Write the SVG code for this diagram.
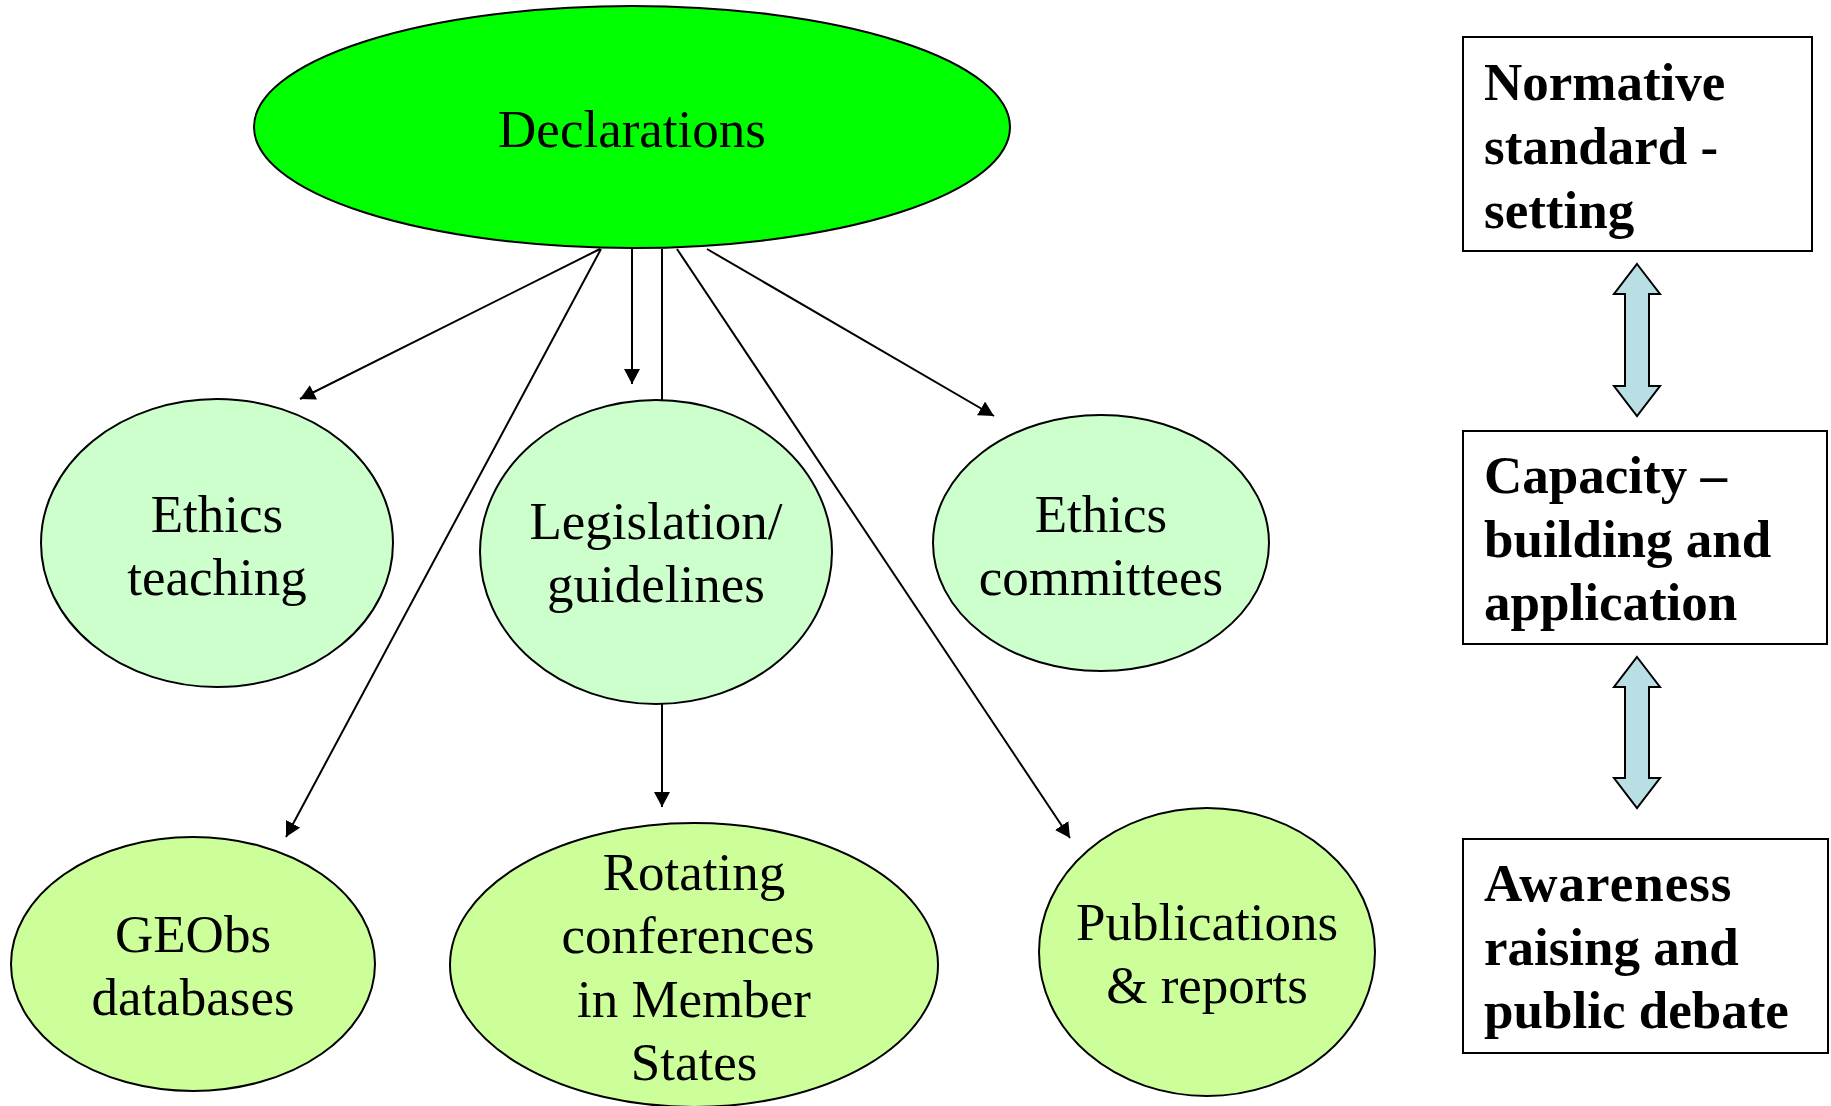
<svg xmlns="http://www.w3.org/2000/svg" width="1831" height="1106" viewBox="0 0 1831 1106">
<style>
.node ellipse{stroke:#000;stroke-width:2}
.lbl{font-family:"Liberation Serif","Times New Roman",serif;font-size:53px;fill:#000;text-anchor:middle}
.blbl{font-family:"Liberation Serif","Times New Roman",serif;font-size:53px;font-weight:bold;fill:#000}
.box{fill:#fff;stroke:#000;stroke-width:2}
.edge{stroke:#000;stroke-width:2;fill:none}
.dbl{fill:#B9DFE4;stroke:#000;stroke-width:2;stroke-linejoin:miter}
</style>
<defs>
<marker id="ah" markerUnits="userSpaceOnUse" viewBox="0 -8 15 16" refX="15" refY="0" markerWidth="15" markerHeight="16" orient="auto">
<path d="M0,-8 L15,0 L0,8 z" fill="#000"/>
</marker>
</defs>
<rect width="1831" height="1106" fill="#fff"/>

<g id="connectors">
<line class="edge" x1="600" y1="249" x2="300" y2="399" marker-end="url(#ah)"/>
<line class="edge" x1="601" y1="249" x2="286" y2="837" marker-end="url(#ah)"/>
<line class="edge" x1="632" y1="249" x2="632" y2="384" marker-end="url(#ah)"/>
<line class="edge" x1="662" y1="249" x2="662" y2="400"/>
<line class="edge" x1="662" y1="703" x2="662" y2="807" marker-end="url(#ah)"/>
<line class="edge" x1="677" y1="249" x2="1070" y2="838" marker-end="url(#ah)"/>
<line class="edge" x1="707" y1="249" x2="994" y2="416" marker-end="url(#ah)"/>
</g>

<g id="declarations" class="node">
<ellipse cx="632" cy="127" rx="378" ry="121" fill="#00FF00"/>
<text class="lbl" x="632" y="147">Declarations</text>
</g>

<g id="ethics-teaching" class="node">
<ellipse cx="217" cy="543" rx="176" ry="144" fill="#CCFFCC"/>
<text class="lbl" x="217" y="532">Ethics</text>
<text class="lbl" x="217" y="595">teaching</text>
</g>

<g id="legislation" class="node">
<ellipse cx="656" cy="552" rx="176" ry="152" fill="#CCFFCC"/>
<text class="lbl" x="656" y="539">Legislation/</text>
<text class="lbl" x="656" y="602">guidelines</text>
</g>

<g id="ethics-committees" class="node">
<ellipse cx="1101" cy="543" rx="168" ry="128" fill="#CCFFCC"/>
<text class="lbl" x="1101" y="532">Ethics</text>
<text class="lbl" x="1101" y="595">committees</text>
</g>

<g id="geobs" class="node">
<ellipse cx="193" cy="964" rx="182" ry="127" fill="#CCFF99"/>
<text class="lbl" x="193" y="952">GEObs</text>
<text class="lbl" x="193" y="1015">databases</text>
</g>

<g id="rotating" class="node">
<ellipse cx="694" cy="965" rx="244" ry="142" fill="#CCFF99"/>
<text class="lbl" x="694" y="890">Rotating</text>
<text class="lbl" x="688" y="953">conferences</text>
<text class="lbl" x="694" y="1017">in Member</text>
<text class="lbl" x="694" y="1080">States</text>
</g>

<g id="publications" class="node">
<ellipse cx="1207" cy="952" rx="168" ry="144" fill="#CCFF99"/>
<text class="lbl" x="1207" y="940">Publications</text>
<text class="lbl" x="1207" y="1003">&amp; reports</text>
</g>

<g id="normative">
<rect class="box" x="1463" y="37" width="349" height="214"/>
<text class="blbl" x="1484" y="100">Normative</text>
<text class="blbl" x="1484" y="164">standard -</text>
<text class="blbl" x="1484" y="228">setting</text>
</g>

<g id="capacity">
<rect class="box" x="1463" y="431" width="364" height="213"/>
<text class="blbl" x="1484" y="493">Capacity –</text>
<text class="blbl" x="1484" y="557">building and</text>
<text class="blbl" x="1484" y="620">application</text>
</g>

<g id="awareness">
<rect class="box" x="1463" y="839" width="365" height="214"/>
<text class="blbl" x="1484" y="901" letter-spacing="1">Awareness</text>
<text class="blbl" x="1484" y="965">raising and</text>
<text class="blbl" x="1484" y="1028">public debate</text>
</g>

<g id="double-arrows">
<polygon class="dbl" points="1637,264 1660,294 1649,294 1649,386 1660,386 1637,416 1614,386 1625,386 1625,294 1614,294"/>
<polygon class="dbl" points="1637,657 1660,687 1649,687 1649,778 1660,778 1637,808 1614,778 1625,778 1625,687 1614,687"/>
</g>
</svg>
